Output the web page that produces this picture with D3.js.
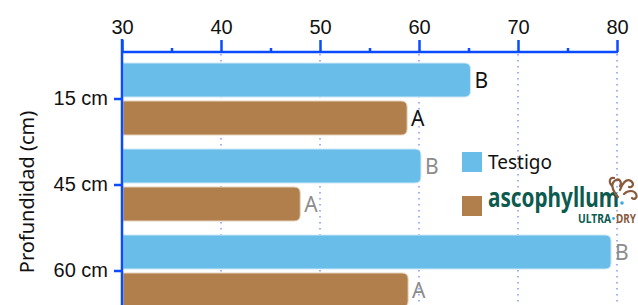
<!DOCTYPE html>
<html>
<head>
<meta charset="utf-8">
<script src="https://cdn.jsdelivr.net/npm/d3@7"></script>
<style>
  body { margin: 0; background: #fff; }
  svg { display: block; font-family: "Noto Sans", "Open Sans", sans-serif; }
</style>
</head>
<body>
<svg id="chart" width="638" height="305"></svg>
<script>
// depths and series
const depths = ['15 cm', '45 cm', '60 cm'];
const series = ['Testigo', 'ascophyllum'];
const testigo = [65.2, 60.2, 79.4];
const ascophyllum = [58.8, 48.0, 58.9];
const letters = [['B', 'A'], ['B', 'A'], ['B', 'A']];
const xTicks = [30, 40, 50, 60, 70, 80];
const xMinor = [35, 45, 55, 65, 75];

const colors = {Testigo: '#68bde9', ascophyllum: '#b07f4b'};
const edge = {Testigo: '#cde8f7', ascophyllum: '#e6d3bd'};
const axisColor = '#0a4bff';

const svg = d3.select('#chart');

const x = d3.scaleLinear().domain([30, 80]).range([122, 617]);
const y = d3.scaleBand().domain(depths).range([56, 314]);
const inner = d3.scaleBand().domain(series).range([7, 79]).paddingInner(0.105);

const data = depths.map((d, i) => ({
  depth: d,
  values: [
    {key: 'Testigo', value: testigo[i], letter: letters[i][0]},
    {key: 'ascophyllum', value: ascophyllum[i], letter: letters[i][1]}
  ],
  idx: i
}));

// dotted grid lines
svg.append('g')
  .selectAll('line')
  .data(xTicks.slice(1))
  .join('line')
  .attr('x1', d => x(d)).attr('x2', d => x(d))
  .attr('y1', 54).attr('y2', 305)
  .attr('stroke', '#3b64f2')
  .attr('stroke-width', 1)
  .attr('stroke-dasharray', '1.5,4.5');

// rounded-right bar path
const barPath = (x0, x1, y0, h, r) => {
  const rr = Math.min(r, (x1 - x0));
  return `M${x0},${y0}H${x1 - rr}Q${x1},${y0} ${x1},${y0 + rr}` +
    `V${y0 + h - rr}Q${x1},${y0 + h} ${x1 - rr},${y0 + h}H${x0}Z`;
};

const groups = svg.append('g')
  .selectAll('g')
  .data(data)
  .join('g')
  .attr('transform', d => `translate(0,${y(d.depth)})`);

groups.selectAll('path')
  .data(d => d.values)
  .join('path')
  .attr('d', d => barPath(x(30) + 1, x(d.value), inner(d.key), inner.bandwidth(), 6))
  .attr('fill', d => colors[d.key])
  .attr('stroke', d => edge[d.key])
  .attr('stroke-width', 1);

groups.selectAll('text')
  .data(d => d.values.map(v => Object.assign({first: d.idx === 0}, v)))
  .join('text')
  .attr('x', d => x(d.value) + 4)
  .attr('y', d => inner(d.key) + inner.bandwidth() / 2)
  .attr('dy', '0.36em')
  .attr('font-size', 21)
  .attr('fill', d => d.first ? '#111' : '#8c8c8c')
  .text(d => d.letter);

// x axis on top
const xAxis = svg.append('g')
  .attr('transform', 'translate(0,52)')
  .call(d3.axisTop(x).tickValues(xTicks).tickSize(12).tickPadding(6).tickFormat(d3.format('d')));
xAxis.select('.domain').remove();
xAxis.selectAll('.tick line').attr('stroke', axisColor).attr('stroke-width', 2.5);
xAxis.selectAll('.tick text').attr('font-size', 20).attr('fill', '#111').attr('font-family', null);

const xMinorAxis = svg.append('g')
  .attr('transform', 'translate(0,52)')
  .call(d3.axisTop(x).tickValues(xMinor).tickSize(4).tickFormat(''));
xMinorAxis.select('.domain').remove();
xMinorAxis.selectAll('.tick line').attr('stroke', axisColor).attr('stroke-width', 2.5);

svg.append('line')
  .attr('x1', x(30)).attr('x2', x(80) + 1)
  .attr('y1', 52).attr('y2', 52)
  .attr('stroke', axisColor).attr('stroke-width', 2.5);

// y axis
const yAxis = svg.append('g')
  .attr('transform', `translate(${x(30)},0)`)
  .call(d3.axisLeft(y).tickSize(8).tickPadding(6));
yAxis.select('.domain').remove();
yAxis.selectAll('.tick line').attr('stroke', axisColor).attr('stroke-width', 2.5);
yAxis.selectAll('.tick text').attr('font-size', 20).attr('fill', '#111').attr('font-family', null);

svg.append('line')
  .attr('x1', x(30)).attr('x2', x(30))
  .attr('y1', 39).attr('y2', 305)
  .attr('stroke', axisColor).attr('stroke-width', 2.5);

svg.append('text')
  .attr('transform', 'translate(34,192) rotate(-90)')
  .attr('text-anchor', 'middle')
  .attr('font-size', 20)
  .attr('fill', '#111')
  .text('Profundidad (cm)');

// legend
const legend = svg.append('g').attr('transform', 'translate(462,152)');
legend.selectAll('rect')
  .data(series)
  .join('rect')
  .attr('x', 0).attr('y', (d, i) => i * 44)
  .attr('width', 20).attr('height', 20)
  .attr('fill', d => colors[d]);

legend.append('text')
  .attr('x', 26).attr('y', 10).attr('dy', '0.36em')
  .attr('font-size', 19).attr('fill', '#111')
  .text('Testigo');

// ascophyllum logo as text
legend.append('text')
  .attr('x', 26).attr('y', 55)
  .attr('font-size', 27).attr('font-weight', 'bold')
  .attr('textLength', 131).attr('lengthAdjust', 'spacingAndGlyphs')
  .attr('fill', '#0d5a4f')
  .text('ascophyllum');
legend.append('circle')
  .attr('cx', 160).attr('cy', 51).attr('r', 1.8)
  .attr('fill', '#3fa9e0');

const subParts = [
  {t: 'ULTRA', x: 116, w: 33, c: '#0d5a4f'},
  {t: 'DRY', x: 154, w: 20, c: '#8a5a3b'}
];
legend.selectAll('text.sub')
  .data(subParts)
  .join('text')
  .attr('class', 'sub')
  .attr('x', d => d.x).attr('y', 71)
  .attr('font-size', 12).attr('font-weight', 'bold')
  .attr('textLength', d => d.w).attr('lengthAdjust', 'spacingAndGlyphs')
  .attr('fill', d => d.c)
  .text(d => d.t);
legend.append('circle')
  .attr('cx', 151.5).attr('cy', 66.5).attr('r', 1.4)
  .attr('fill', '#3fa9e0');

// seaweed mark
legend.append('path')
  .attr('d', 'M156,45 C150,38 148,31 154,28 C158,26 160,31 158,34 M158,38 C160,32 164,26 169,29 C173,32 170,36 167,35 M162,42 C166,38 172,38 174,42 C176,46 172,48 170,46 M150,34 C146,30 148,25 152,26')
  .attr('fill', 'none')
  .attr('stroke', '#8a5a3b')
  .attr('stroke-width', 2.2)
  .attr('stroke-linecap', 'round');
</script>
</body>
</html>
